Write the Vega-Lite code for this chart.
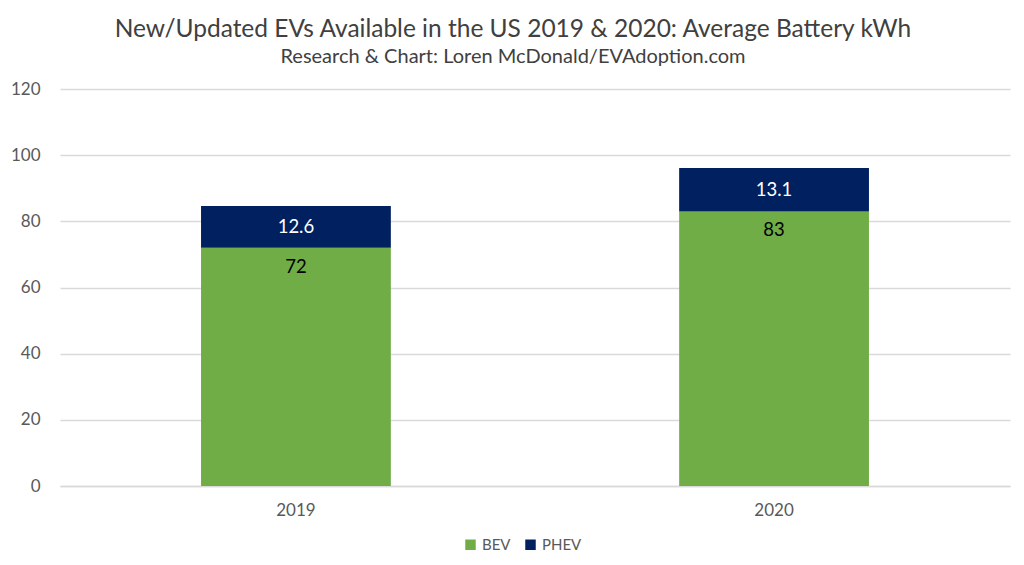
{
  "$schema": "https://vega.github.io/schema/vega-lite/v6.json",
  "autosize": "none",
  "width": 950,
  "height": 397,
  "padding": {"left": 60, "top": 89, "right": 14, "bottom": 79},
  "background": "white",
  "title": {
    "text": "New/Updated EVs Available in the US 2019 & 2020: Average Battery kWh",
    "subtitle": "Research & Chart: Loren McDonald/EVAdoption.com",
    "anchor": "middle",
    "dx": -22,
    "font": "Lato",
    "fontSize": 24.5,
    "fontWeight": "normal",
    "color": "#404040",
    "subtitleFont": "Lato",
    "subtitleFontSize": 20,
    "subtitleColor": "#404040",
    "subtitlePadding": 5,
    "offset": 12
  },
  "data": {
    "values": [
      {"year": "2019", "type": "BEV", "kwh": 72, "ord": 1, "label": "72"},
      {"year": "2019", "type": "PHEV", "kwh": 12.6, "ord": 2, "label": "12.6"},
      {"year": "2020", "type": "BEV", "kwh": 83, "ord": 1, "label": "83"},
      {"year": "2020", "type": "PHEV", "kwh": 13.1, "ord": 2, "label": "13.1"}
    ]
  },
  "transform": [
    {"stack": "kwh", "groupby": ["year"], "sort": [{"field": "ord"}], "as": ["v0", "v1"]},
    {"calculate": "(datum.v0 + datum.v1) / 2", "as": "mid"}
  ],
  "encoding": {
    "x": {
      "field": "year",
      "type": "nominal",
      "title": null,
      "scale": {"paddingInner": 0.603, "paddingOuter": 0.295},
      "axis": {
        "labelAngle": 0,
        "labelFont": "Lato",
        "labelFontSize": 17,
        "labelColor": "#595959",
        "labelPadding": 16,
        "ticks": false,
        "domainColor": "#D9D9D9",
        "domainWidth": 1.5
      }
    }
  },
  "layer": [
    {
      "mark": {"type": "bar"},
      "encoding": {
        "y": {
          "field": "v0",
          "type": "quantitative",
          "title": null,
          "scale": {"domain": [0, 120]},
          "axis": {
            "values": [0, 20, 40, 60, 80, 100, 120],
            "labelFont": "Lato",
            "labelFontSize": 17,
            "labelColor": "#595959",
            "labelPadding": 20,
            "ticks": false,
            "domain": false,
            "gridColor": "#D9D9D9",
            "gridWidth": 1.5
          }
        },
        "y2": {"field": "v1"},
        "color": {
          "field": "type",
          "type": "nominal",
          "scale": {"domain": ["BEV", "PHEV"], "range": ["#70AD47", "#002060"]},
          "legend": {
            "title": null,
            "orient": "none",
            "direction": "horizontal",
            "legendX": 403,
            "legendY": 448,
            "symbolType": "square",
            "symbolSize": 110,
            "symbolStrokeWidth": 0,
            "labelFont": "Lato",
            "labelFontSize": 15,
            "labelColor": "#595959",
            "columnPadding": 12,
            "labelOffset": 4
          }
        }
      }
    },
    {
      "transform": [{"filter": "datum.type === 'BEV'"}],
      "mark": {"type": "text", "font": "Lato", "fontSize": 18.5, "color": "#000000", "dy": 19, "baseline": "middle"},
      "encoding": {
        "y": {"field": "v1", "type": "quantitative"},
        "text": {"field": "label"}
      }
    },
    {
      "transform": [{"filter": "datum.type === 'PHEV'"}],
      "mark": {"type": "text", "font": "Lato", "fontSize": 18.5, "color": "#FFFFFF", "baseline": "middle"},
      "encoding": {
        "y": {"field": "mid", "type": "quantitative"},
        "text": {"field": "label"}
      }
    }
  ],
  "config": {"view": {"stroke": null}}
}
